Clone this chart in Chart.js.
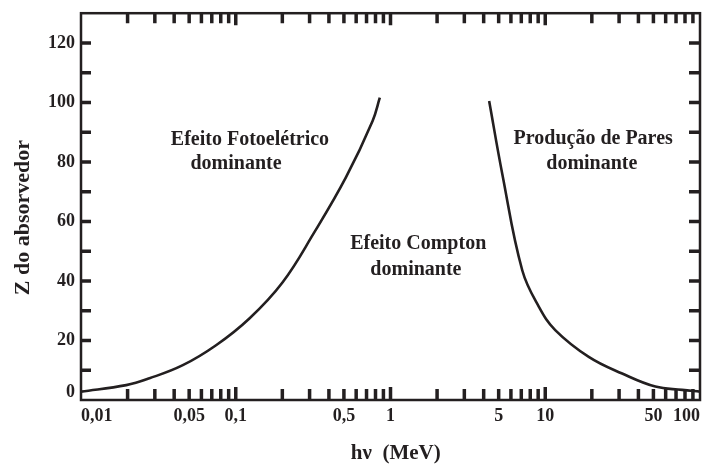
<!DOCTYPE html>
<html>
<head>
<meta charset="utf-8">
<script src="https://cdn.jsdelivr.net/npm/chart.js@4.4.1/dist/chart.umd.min.js"></script>
<style>
  html, body { margin: 0; padding: 0; background: #fff; }
  #wrap { width: 708px; height: 466px; }
</style>
</head>
<body>
<div id="wrap"><canvas id="chart"></canvas></div>
<script>
// fronteira fotoelétrico / Compton
const fotoEnergy = [0.01, 0.0196, 0.0277, 0.0455, 0.0746, 0.1225, 0.201, 0.318, 0.515, 0.766, 0.853];
const fotoZ = [2.8, 5.0, 7.3, 11.7, 18.4, 27.4, 39.6, 55.9, 74.8, 93.8, 101.6];

// fronteira Compton / produção de pares
const paresEnergy = [4.34, 5.28, 7.1, 9.1, 11.6, 19.1, 31.4, 51.5, 76.6, 100];
const paresZ = [100.5, 75.9, 43.6, 31.3, 23.5, 14.5, 8.9, 4.5, 3.4, 2.8];

const xTicks = [0.01, 0.02, 0.03, 0.04, 0.05, 0.06, 0.07, 0.08, 0.09,
                0.1, 0.2, 0.3, 0.4, 0.5, 0.6, 0.7, 0.8, 0.9,
                1, 2, 3, 4, 5, 6, 7, 8, 9,
                10, 20, 30, 40, 50, 60, 70, 80, 90, 100];
const xLabelValues = [0.01, 0.05, 0.1, 0.5, 1, 5, 10, 50, 100];
const xLabelTexts = ["0,01", "0,05", "0,1", "0,5", "1", "5", "10", "50", "100"];
const yTicks = [0, 10, 20, 30, 40, 50, 60, 70, 80, 90, 100, 110, 120];

const noteTexts = ["Efeito Fotoelétrico", "dominante", "Efeito Compton", "dominante", "Produção de Pares", "dominante"];
const noteEnergy = [0.1236, 0.1004, 1.51, 1.46, 20.4, 20.0];
const noteZ = [87.4, 79.4, 52.6, 43.6, 87.8, 79.4];

const ink = "#231f20";
const serif = "'Liberation Serif', 'Times New Roman', serif";

function isDecade(v) {
    const l = Math.log10(v);
    return Math.abs(l - Math.round(l)) < 1e-6;
}

function xLabel(v) {
    const i = xLabelValues.findIndex(l => Math.abs(l - v) < 1e-9);
    return i >= 0 ? xLabelTexts[i] : "";
}

function yLabel(v) {
    if (v % 20 !== 0) return "";
    // o "0" fica um pouco acima da linha do eixo, como no original
    return v === 0 ? ["0", ""] : String(v);
}

// moldura com marcas para dentro nos quatro lados + textos das regiões
const frameAndTicks = {
    id: "frameAndTicks",
    afterDatasetsDraw(chart) {
        const { ctx, chartArea: a, scales: { x, y } } = chart;
        ctx.save();
        ctx.strokeStyle = ink;
        ctx.lineWidth = 3.5;
        ctx.beginPath();
        x.ticks.forEach(t => {
            const px = x.getPixelForValue(t.value);
            if (px < a.left + 2 || px > a.right - 2) return;
            const len = isDecade(t.value) ? 13 : 11;
            ctx.moveTo(px, a.bottom);
            ctx.lineTo(px, a.bottom - len);
            ctx.moveTo(px, a.top);
            ctx.lineTo(px, a.top + len - 1);
        });
        y.ticks.forEach(t => {
            const py = y.getPixelForValue(t.value);
            if (py > a.bottom - 2 || py < a.top + 2) return;
            ctx.moveTo(a.left, py);
            ctx.lineTo(a.left + 10, py);
            ctx.moveTo(a.right, py);
            ctx.lineTo(a.right - 11, py);
        });
        ctx.stroke();

        ctx.lineWidth = 2.5;
        ctx.strokeRect(a.left, a.top, a.right - a.left, a.bottom - a.top);

        ctx.fillStyle = ink;
        ctx.font = "bold 20px " + serif;
        ctx.textAlign = "center";
        ctx.textBaseline = "middle";
        noteTexts.forEach((s, i) => {
            ctx.fillText(s, x.getPixelForValue(noteEnergy[i]), y.getPixelForValue(noteZ[i]));
        });
        ctx.restore();
    }
};

function curve(energy, z) {
    return {
        data: energy.map((e, i) => ({ x: e, y: z[i] })),
        showLine: true,
        borderColor: ink,
        borderWidth: 2.6,
        pointRadius: 0,
        tension: 0.4
    };
}

new Chart(document.getElementById("chart"), {
    type: "scatter",
    data: {
        datasets: [curve(fotoEnergy, fotoZ), curve(paresEnergy, paresZ)]
    },
    options: {
        responsive: true,
        maintainAspectRatio: false,
        animation: false,
        layout: { padding: { top: 12, right: 8, left: 0, bottom: 0 } },
        plugins: {
            legend: { display: false },
            tooltip: { enabled: false }
        },
        scales: {
            x: {
                type: "logarithmic",
                min: 0.01,
                max: 100,
                afterBuildTicks: s => { s.ticks = xTicks.map(v => ({ value: v })); },
                afterFit: s => { s.height = 66; },
                grid: { display: false, drawTicks: false },
                border: { display: false },
                ticks: {
                    autoSkip: false,
                    maxRotation: 0,
                    align: "inner",
                    padding: 6,
                    color: ink,
                    font: { family: serif, size: 18, weight: "bold" },
                    callback: v => xLabel(v)
                },
                title: {
                    display: true,
                    text: "\u00a0\u00a0hν\u00a0\u00a0(MeV)",
                    color: ink,
                    font: { family: serif, size: 21, weight: "bold" },
                    padding: { top: 0, bottom: 0 }
                }
            },
            y: {
                min: 0,
                max: 130,
                afterBuildTicks: s => { s.ticks = yTicks.map(v => ({ value: v })); },
                afterFit: s => { s.width = 81; },
                grid: { display: false, drawTicks: false },
                border: { display: false },
                ticks: {
                    padding: 6,
                    color: ink,
                    font: { family: serif, size: 18, weight: "bold", lineHeight: 0.8 },
                    callback: v => yLabel(v)
                },
                title: {
                    display: true,
                    text: "Z do absorvedor\u00a0\u00a0\u00a0\u00a0",
                    color: ink,
                    font: { family: serif, size: 22, weight: "bold" },
                    padding: { top: 10, bottom: 0 }
                }
            }
        }
    },
    plugins: [frameAndTicks]
});
</script>
</body>
</html>
